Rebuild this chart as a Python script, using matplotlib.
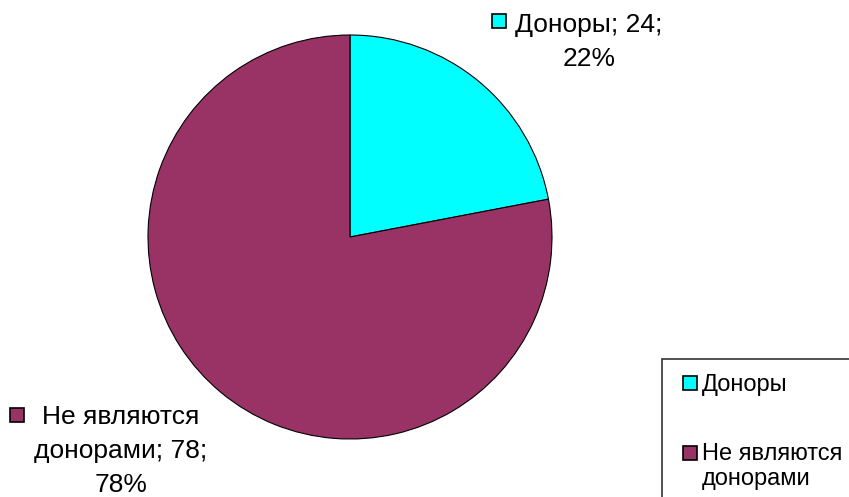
import matplotlib.pyplot as plt
from matplotlib.patches import Rectangle
from matplotlib.legend_handler import HandlerPatch

categories = ["Доноры", "Не являются\nдонорами"]
counts = [24, 78]
percents = [22, 78]
colors = ["#00FFFF", "#993366"]

plt.rcParams['font.family'] = ['Liberation Sans', 'DejaVu Sans']

W, H = 849, 497
fig = plt.figure(figsize=(W / 100, H / 100), dpi=100)
fig.patch.set_facecolor("white")

# pie axes placed in pixel coords
cx, cy, r = 350, 237, 202
ax = fig.add_axes([(cx - r) / W, (H - cy - r) / H, 2 * r / W, 2 * r / H])
ax.pie(percents, colors=colors, startangle=90, counterclock=False,
       wedgeprops=dict(edgecolor="black", linewidth=0.8))
ax.set_xlim(-1, 1)
ax.set_ylim(-1, 1)
ax.set_axis_off()


def px(x, y):
    return x / W, 1 - y / H


# data labels: text centre x, top y, marker x, marker y
label_pos = [(589, 13, 492, 14), (121, 405, 10, 408)]
label_txt = [
    f"Доноры; {counts[0]};\n{percents[0]}%",
    f"Не являются\nдонорами; {counts[1]};\n{percents[1]}%",
]
for i, (tx, ty, mx, my) in enumerate(label_pos):
    fig.text(*px(tx, ty), label_txt[i], ha="center", va="top", fontsize=19,
             linespacing=1.52)
    x0, y0 = px(mx, my + 14)
    fig.patches.append(Rectangle((x0, y0), 14 / W, 14 / H, transform=fig.transFigure,
                                 facecolor=colors[i], edgecolor="black", linewidth=1.2))

handles = [Rectangle((0, 0), 1, 1, facecolor=c, edgecolor="black", linewidth=1.2) for c in colors]


def square_right(legend, orig_handle, xdescent, ydescent, width, height, fontsize):
    s = 10.0  # points (~14 px)
    # two-line entry: keep the square next to its first line
    dy = 9.5 if orig_handle is handles[1] else 0
    return Rectangle((-xdescent + width - s, -ydescent + (height - s) / 2 + dy), s, s)


leg = fig.legend(handles, categories, loc="upper left", bbox_to_anchor=px(662, 359),
                 fontsize=17, frameon=True, fancybox=False, edgecolor="black",
                 handlelength=0.83, handleheight=0.6, handletextpad=0.2,
                 labelspacing=1.96, borderpad=0.65, borderaxespad=0,
                 handler_map={Rectangle: HandlerPatch(patch_func=square_right)})
leg.get_frame().set_linewidth(1.2)
for t in leg.get_texts():
    t.set_linespacing(1.21)

fig.savefig("out.png", dpi=100)
